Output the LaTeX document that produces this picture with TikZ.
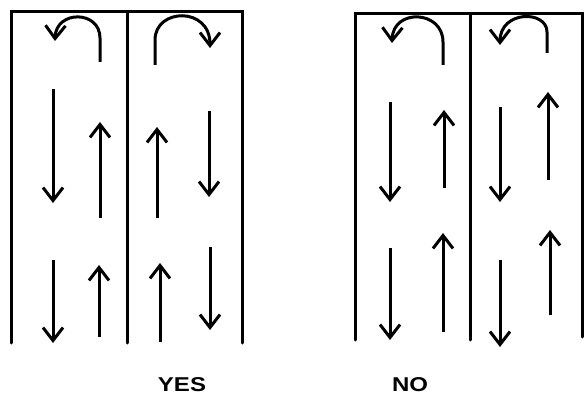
\documentclass[tikz,border=0pt]{standalone}
\usepackage{fontspec}
\setmainfont{Liberation Sans}
\usetikzlibrary{arrows.meta}
\begin{document}
\begin{tikzpicture}[x=1pt,y=-1pt,
  wall/.style={line width=3pt,line cap=round},
  flow/.style={line width=3pt,-{Straight Barb[length=13pt,width=20pt,line width=3pt]}},
  verdict/.style={font=\fontsize{20}{20}\selectfont\bfseries,xscale=1.2}]
\useasboundingbox (0,0) rectangle (585,398);

% ---- left pair of lanes ----
\coordinate (a0) at (11,343); \coordinate (a1) at (11,12);
\coordinate (a2) at (242,12); \coordinate (a3) at (242,343);
\coordinate (am0) at (127,12); \coordinate (am1) at (127,343);
\draw[wall] (a0) -- (a1) -- (a2) -- (a3);
\draw[wall] (am0) -- (am1);

% turn-arounds
\coordinate (u1s) at (100,62); \coordinate (u1e) at (55,41);
\draw[flow] (u1s) -- (100,38) .. controls (100,10) and (56,10) .. (u1e);
\coordinate (u2s) at (155,65); \coordinate (u2e) at (210,48);
\draw[flow] (u2s) -- (155,40) .. controls (155,8) and (210,6) .. (u2e);

% middle arrows
\coordinate (p1) at (53,89);  \coordinate (q1) at (53,203);
\coordinate (p2) at (100,218);\coordinate (q2) at (100,122);
\coordinate (p3) at (157,218);\coordinate (q3) at (157,127);
\coordinate (p4) at (209,111);\coordinate (q4) at (209,197);
\draw[flow] (p1) -- (q1);
\draw[flow] (p2) -- (q2);
\draw[flow] (p3) -- (q3);
\draw[flow] (p4) -- (q4);

% lower arrows
\coordinate (r1) at (53,260);  \coordinate (s1) at (53,343);
\coordinate (r2) at (99,337);  \coordinate (s2) at (99,265);
\coordinate (r3) at (160,342); \coordinate (s3) at (160,263);
\coordinate (r4) at (210,247); \coordinate (s4) at (210,330);
\draw[flow] (r1) -- (s1);
\draw[flow] (r2) -- (s2);
\draw[flow] (r3) -- (s3);
\draw[flow] (r4) -- (s4);

\node[verdict] (yes) at (182,385) {YES};

% ---- right pair of lanes ----
\coordinate (b0) at (355,340); \coordinate (b1) at (355,14);
\coordinate (b2) at (582,14);  \coordinate (b3) at (582,337);
\coordinate (bm0) at (470,14); \coordinate (bm1) at (470,340);
\draw[wall] (b0) -- (b1) -- (b2) -- (b3);
\draw[wall] (bm0) -- (bm1);

% turn-arounds
\coordinate (v1s) at (443,65); \coordinate (v1e) at (392,43);
\draw[flow] (v1s) -- (443,42) .. controls (443,10) and (393,8) .. (v1e);
\coordinate (v2s) at (547,53); \coordinate (v2e) at (500,45);
\draw[flow] (v2s) -- (547,32) .. controls (547,10) and (500,10) .. (v2e);

% middle arrows
\coordinate (m1) at (390,102); \coordinate (n1) at (390,202);
\coordinate (m2) at (444,188); \coordinate (n2) at (444,110);
\coordinate (m3) at (500,107); \coordinate (n3) at (500,202);
\coordinate (m4) at (548,180); \coordinate (n4) at (548,92);
\draw[flow] (m1) -- (n1);
\draw[flow] (m2) -- (n2);
\draw[flow] (m3) -- (n3);
\draw[flow] (m4) -- (n4);

% lower arrows
\coordinate (k1) at (390,248); \coordinate (l1) at (390,340);
\coordinate (k2) at (443,332); \coordinate (l2) at (443,233);
\coordinate (k3) at (500,260); \coordinate (l3) at (500,347);
\coordinate (k4) at (550,315); \coordinate (l4) at (550,230);
\draw[flow] (k1) -- (l1);
\draw[flow] (k2) -- (l2);
\draw[flow] (k3) -- (l3);
\draw[flow] (k4) -- (l4);

\node[verdict] (no) at (410,385) {NO};
\end{tikzpicture}
\end{document}
